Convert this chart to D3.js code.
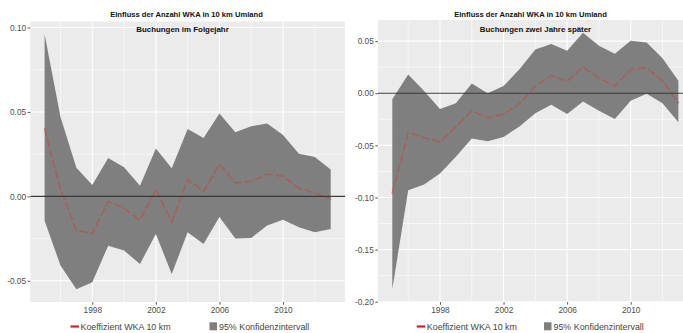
<!DOCTYPE html>
<html>
<head>
<meta charset="utf-8">
<script src="https://cdn.jsdelivr.net/npm/d3@7"></script>
<style>
  body { margin: 0; background: #fff; }
  svg { display: block; font-family: "Liberation Sans", Arial, sans-serif; }
</style>
</head>
<body>
<svg id="chart" width="683" height="333"></svg>
<script>
// Jahre der Schätzung
const years = [1995, 1996, 1997, 1998, 1999, 2000, 2001, 2002, 2003, 2004,
               2005, 2006, 2007, 2008, 2009, 2010, 2011, 2012, 2013];

// Buchungen im Folgejahr: Koeffizient und 95%-Konfidenzintervall
const coefFolge  = [0.040, 0.004, -0.020, -0.022, -0.003, -0.007, -0.014, 0.004, -0.015, 0.010,
                    0.003, 0.019, 0.008, 0.009, 0.013, 0.012, 0.005, 0.002, -0.0015];
const upperFolge = [0.096, 0.047, 0.017, 0.0067, 0.0227, 0.0172, 0.0063, 0.0284, 0.0166, 0.0399,
                    0.0345, 0.049, 0.0379, 0.0415, 0.0432, 0.0364, 0.0253, 0.0233, 0.0159];
const lowerFolge = [-0.0144, -0.041, -0.055, -0.0509, -0.0292, -0.0321, -0.040, -0.0223, -0.0459, -0.0213,
                    -0.0282, -0.0122, -0.025, -0.0246, -0.0173, -0.0138, -0.0183, -0.0213, -0.0193];

// Buchungen zwei Jahre später: Koeffizient und 95%-Konfidenzintervall
const coefZwei  = [-0.0955, -0.0378, -0.0426, -0.0465, -0.032, -0.017, -0.0234, -0.020, -0.010, 0.007,
                   0.017, 0.0115, 0.0255, 0.0145, 0.007, 0.0225, 0.0245, 0.012, -0.0089];
const upperZwei = [-0.0058, 0.018, 0.0022, -0.015, -0.0096, 0.0094, 0.0, 0.007, 0.023, 0.042,
                   0.0472, 0.0408, 0.058, 0.0456, 0.038, 0.0504, 0.0488, 0.0336, 0.012];
const lowerZwei = [-0.188, -0.093, -0.0875, -0.077, -0.061, -0.0435, -0.046, -0.042, -0.032, -0.0192,
                   -0.011, -0.020, -0.0078, -0.0168, -0.0248, -0.0073, -0.0005, -0.0096, -0.0278];

// Achsenbeschriftungen
const xTicks = [1998, 2002, 2006, 2010];
const xMinor = [1996, 2000, 2004, 2008, 2012];
const yTicksFolge = [-0.05, 0.00, 0.05, 0.10];
const yTicksZwei  = [-0.20, -0.15, -0.10, -0.05, 0.00, 0.05];

const titleText = "Einfluss der Anzahl WKA in 10 km Umland";
const legendLine = "Koeffizient WKA 10 km";
const legendFill = "95% Konfidenzintervall";

const svg = d3.select("#chart");
const fmtY = d3.formatLocale({decimal: ".", thousands: ",", grouping: [3], currency: ["", ""], minus: "-"}).format(".2f");

// ggplot-artige Erweiterung der Skalen um 5 %
function expand([a, b], f = 0.05) {
  const d = (b - a) * f;
  return [a - d, b + d];
}

const panels = [
  {
    id: "folge", coef: coefFolge, hi: upperFolge, lo: lowerFolge, yTicks: yTicksFolge,
    subtitle: "Buchungen im Folgejahr",
    x0: 30.3, x1: 345, y0: 21.5, y1: 302,
    titleX: 186.5, subX: 182.5,
    legLineX: 70.5, legFillX: 209.5
  },
  {
    id: "zwei", coef: coefZwei, hi: upperZwei, lo: lowerZwei, yTicks: yTicksZwei,
    subtitle: "Buchungen zwei Jahre später",
    x0: 378, x1: 692.7, y0: 20, y1: 302,
    titleX: 530.5, subX: 535.5,
    legLineX: 416.8, legFillX: 544
  }
];

panels.forEach(p => {
  const x = d3.scaleLinear().domain(expand(d3.extent(years))).range([p.x0, p.x1]);
  const y = d3.scaleLinear()
    .domain(expand([d3.min(p.lo), d3.max(p.hi)]))
    .range([p.y1, p.y0]);

  const g = svg.append("g");

  g.append("clipPath").attr("id", "clip-" + p.id)
    .append("rect").attr("x", p.x0).attr("y", p.y0)
    .attr("width", p.x1 - p.x0).attr("height", p.y1 - p.y0);

  // Panel-Hintergrund
  g.append("rect").attr("x", p.x0).attr("y", p.y0)
    .attr("width", p.x1 - p.x0).attr("height", p.y1 - p.y0)
    .attr("fill", "#EBEBEB");

  const plot = g.append("g").attr("clip-path", `url(#clip-${p.id})`);

  // Nebengitter
  const yMinor = d3.pairs(p.yTicks).map(([a, b]) => (a + b) / 2);
  plot.selectAll(".gy-minor").data(yMinor).join("line")
    .attr("x1", p.x0).attr("x2", p.x1)
    .attr("y1", d => y(d)).attr("y2", d => y(d))
    .attr("stroke", "#fff").attr("stroke-width", 0.55);
  plot.selectAll(".gx-minor").data(xMinor).join("line")
    .attr("y1", p.y0).attr("y2", p.y1)
    .attr("x1", d => x(d)).attr("x2", d => x(d))
    .attr("stroke", "#fff").attr("stroke-width", 0.55);

  // Hauptgitter
  plot.selectAll(".gy").data(p.yTicks).join("line")
    .attr("x1", p.x0).attr("x2", p.x1)
    .attr("y1", d => y(d)).attr("y2", d => y(d))
    .attr("stroke", "#fff").attr("stroke-width", 1.1);
  plot.selectAll(".gx").data(xTicks).join("line")
    .attr("y1", p.y0).attr("y2", p.y1)
    .attr("x1", d => x(d)).attr("x2", d => x(d))
    .attr("stroke", "#fff").attr("stroke-width", 1.1);

  const rows = years.map((yr, i) => ({yr, c: p.coef[i], lo: p.lo[i], hi: p.hi[i]}));

  // Konfidenzband
  plot.append("path").datum(rows)
    .attr("d", d3.area().x(d => x(d.yr)).y0(d => y(d.lo)).y1(d => y(d.hi)))
    .attr("fill", "#7F7F7F");

  // Koeffizient (gestrichelt)
  plot.append("path").datum(rows)
    .attr("d", d3.line().x(d => x(d.yr)).y(d => y(d.c)))
    .attr("fill", "none").attr("stroke", "#C0483F").attr("stroke-opacity", 0.55)
    .attr("stroke-width", 1.6).attr("stroke-dasharray", "7,4")
    .attr("stroke-linecap", "round");

  // Nulllinie
  plot.append("line")
    .attr("x1", p.x0).attr("x2", p.x1)
    .attr("y1", y(0)).attr("y2", y(0))
    .attr("stroke", "#3A3A3A").attr("stroke-width", 1.2);

  // Achsen
  const ay = g.append("g").attr("transform", `translate(${p.x0},0)`)
    .call(d3.axisLeft(y).tickValues(p.yTicks).tickSize(2.7).tickPadding(1.5).tickFormat(fmtY));
  const ax = g.append("g").attr("transform", `translate(0,${p.y1})`)
    .call(d3.axisBottom(x).tickValues(xTicks).tickSize(2.7).tickPadding(2).tickFormat(d3.format("d")));
  [ax, ay].forEach(a => {
    a.select(".domain").remove();
    a.selectAll(".tick line").attr("stroke", "#333").attr("stroke-width", 0.8);
    a.selectAll(".tick text").attr("fill", "#4D4D4D").style("font-size", "8.3px")
      .style("font-family", '"Liberation Sans", Arial, sans-serif');
  });

  // Titel
  g.append("text").attr("x", p.titleX).attr("y", 16.5).attr("text-anchor", "middle")
    .style("font-size", "7.6px").style("font-weight", "bold").attr("fill", "#111")
    .text(titleText);
  g.append("text").attr("x", p.subX).attr("y", 31.5).attr("text-anchor", "middle")
    .style("font-size", "7.9px").style("font-weight", "bold").attr("fill", "#111")
    .text(p.subtitle);

  // Legende
  const ly = 326.5;
  g.append("line").attr("x1", p.legLineX).attr("x2", p.legLineX + 8.5)
    .attr("y1", ly).attr("y2", ly).attr("stroke", "#E8181C").attr("stroke-width", 2.2);
  g.append("text").attr("x", p.legLineX + 10).attr("y", ly + 3.2)
    .style("font-size", "8.9px").attr("fill", "#444").text(legendLine);
  g.append("rect").attr("x", p.legFillX).attr("y", ly - 4.2).attr("width", 7.5).attr("height", 8)
    .attr("fill", "#7F7F7F");
  g.append("text").attr("x", p.legFillX + 9.5).attr("y", ly + 3.2)
    .style("font-size", "8.9px").attr("fill", "#444").text(legendFill);
});
</script>
</body>
</html>
